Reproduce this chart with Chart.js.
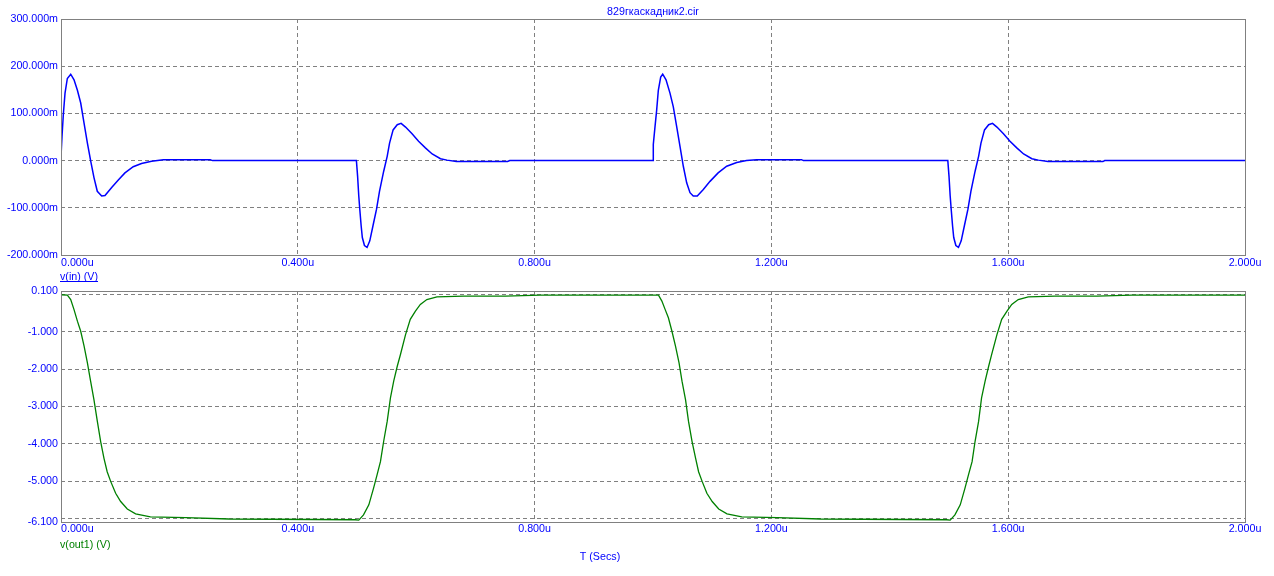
<!DOCTYPE html>
<html>
<head>
<meta charset="utf-8">
<script src="https://cdn.jsdelivr.net/npm/chart.js@4.4.1/dist/chart.umd.min.js"></script>
<style>
  html, body { margin: 0; padding: 0; background: #fff; overflow: hidden; }
  .box { position: absolute; left: 0; width: 1274px; }
  #topBox { top: 0; height: 285px; }
  #botBox { top: 285px; height: 291px; }
</style>
</head>
<body>
<div class="box" id="topBox"><canvas id="cIn"></canvas></div>
<div class="box" id="botBox"><canvas id="cOut"></canvas></div>
<script>
// time axis, microseconds
const xTicks = [0, 0.4, 0.8, 1.2, 1.6, 2.0];

// v(in), mV
const inT = [
  0, 0.0017, 0.0039, 0.0068, 0.0107, 0.0164, 0.022, 0.0277, 0.0333, 0.039, 0.0446, 0.0502,
  0.0557, 0.0613, 0.0687, 0.0743, 0.0856, 0.0968, 0.108, 0.122, 0.136, 0.153, 0.173, 0.252, 0.256,
  0.499, 0.501, 0.503, 0.5047, 0.507, 0.509, 0.5126, 0.517, 0.5216, 0.527, 0.533, 0.538, 0.545,
  0.551, 0.555, 0.561, 0.568, 0.5745, 0.582, 0.593, 0.604, 0.6155, 0.627, 0.641, 0.652, 0.668, 0.7545, 0.758,
  1.0, 1.0005, 1.0034, 1.0062, 1.009, 1.013, 1.0164, 1.022, 1.0287, 1.0343, 1.04, 1.0456, 1.0512,
  1.0569, 1.0625, 1.068, 1.0748, 1.085, 1.0963, 1.110, 1.1245, 1.1414, 1.158, 1.175, 1.251, 1.254,
  1.498, 1.500, 1.502, 1.5037, 1.506, 1.508, 1.5116, 1.516, 1.5206, 1.526, 1.532, 1.537, 1.544,
  1.550, 1.554, 1.560, 1.567, 1.5735, 1.581, 1.592, 1.603, 1.6145, 1.626, 1.640, 1.651, 1.667, 1.760, 1.763,
  2.0
];
const inV = [
  9, 51, 97, 143, 174, 183, 171, 149, 122, 79, 37, -1,
  -36, -65, -75, -74, -57, -41, -26, -13, -6, -1.5, 2, 2, 0,
  0, -33, -75, -103, -138, -163, -180, -184, -170, -138, -103, -65, -23,
  9, 37, 65, 76, 79, 71, 57, 41, 27, 14, 4, 1, -2, -2, 0,
  0, 34, 72, 107, 149, 177, 183, 171, 143, 114, 72, 30, -12,
  -47, -68, -75, -75, -61, -44, -26, -12, -4, 0, 2, 2, 0,
  0, -33, -75, -103, -138, -163, -180, -184, -170, -138, -103, -65, -23,
  9, 37, 65, 76, 79, 71, 57, 41, 27, 14, 4, 1, -2, -2, 0,
  0
];
const inYTicks = [300, 200, 100, 0, -100, -200];

// v(out1), V
const outT = [
  0, 0.0108, 0.0164, 0.022, 0.0277, 0.0333, 0.039, 0.0446, 0.050, 0.0557, 0.0614, 0.067,
  0.0726, 0.078, 0.0839, 0.0923, 0.1008, 0.112, 0.126, 0.151, 0.2105, 0.2836, 0.497, 0.503,
  0.511, 0.52, 0.528, 0.534, 0.5396, 0.545, 0.551, 0.5565, 0.562, 0.568, 0.5733, 0.582,
  0.590, 0.5987, 0.607, 0.618, 0.635, 0.680, 0.7505, 0.8096, 1.0093,
  1.015, 1.0206, 1.026, 1.032, 1.038, 1.044, 1.049, 1.055, 1.060, 1.066, 1.072, 1.077,
  1.083, 1.091, 1.100, 1.111, 1.125, 1.150, 1.210, 1.283, 1.496, 1.502,
  1.510, 1.519, 1.527, 1.533, 1.539, 1.544, 1.550, 1.555, 1.561, 1.567, 1.572, 1.581,
  1.589, 1.598, 1.606, 1.617, 1.634, 1.679, 1.750, 1.809, 2.0
];
const outV = [
  0, -0.01, -0.13, -0.40, -0.71, -0.98, -1.38, -1.83, -2.32, -2.82, -3.40, -3.94,
  -4.39, -4.75, -5.01, -5.33, -5.55, -5.75, -5.88, -5.96, -5.98, -6.02, -6.04, -6.05,
  -5.91, -5.64, -5.19, -4.83, -4.48, -3.94, -3.40, -2.77, -2.32, -1.92, -1.61, -1.07,
  -0.66, -0.44, -0.26, -0.13, -0.06, -0.04, -0.04, -0.01, -0.01,
  -0.17, -0.40, -0.62, -0.98, -1.38, -1.83, -2.32, -2.82, -3.40, -3.94, -4.39, -4.75,
  -5.01, -5.33, -5.55, -5.75, -5.88, -5.96, -5.98, -6.02, -6.04, -6.05,
  -5.91, -5.64, -5.19, -4.83, -4.48, -3.94, -3.40, -2.77, -2.32, -1.92, -1.61, -1.07,
  -0.66, -0.44, -0.26, -0.13, -0.06, -0.04, -0.04, -0.01, -0.01
];
const outYTicks = [0.1, 0, -1, -2, -3, -4, -5, -6, -6.1];
const outYLabels = ['0.100', '', '-1.000', '-2.000', '-3.000', '-4.000', '-5.000', '', '-6.100'];

const BLUE = '#0000ff';
const GREEN = '#008000';
const GRID = '#808080';
const FAMILY = '"Liberation Sans", Arial, sans-serif';
const FSIZE = 10.7;
const FONT = FSIZE + 'px ' + FAMILY;

// frame, time labels and free texts
const framePlugin = {
  id: 'frame',
  afterDraw(chart, args, o) {
    const { ctx, chartArea: a } = chart;
    const x = chart.scales.x;
    ctx.save();
    ctx.strokeStyle = GRID;
    ctx.lineWidth = 1;
    ctx.strokeRect(Math.round(a.left) + 0.5, Math.round(a.top) + 0.5,
      Math.round(a.right - a.left), Math.round(a.bottom - a.top));
    ctx.font = FONT;
    ctx.fillStyle = BLUE;
    ctx.textBaseline = 'middle';
    x.ticks.forEach((t, i) => {
      ctx.textAlign = i === 0 ? 'left' : 'center';
      ctx.fillText(t.value.toFixed(3) + 'u', x.getPixelForValue(t.value), o.tickY);
    });
    (o.texts || []).forEach(tx => {
      ctx.fillStyle = tx.color;
      ctx.textAlign = tx.align;
      const px = tx.x === 'center' ? (a.left + a.right) / 2 : tx.x;
      ctx.fillText(tx.text, px, tx.y);
      if (tx.underline) {
        const w = ctx.measureText(tx.text).width;
        ctx.fillRect(px, tx.y + 4, w, 1);
      }
    });
    ctx.restore();
  }
};

function edgeHidden(vals) {
  return c => (c.tick && vals.includes(c.tick.value)) ? 'rgba(0,0,0,0)' : GRID;
}

function makeChart(canvas, opts) {
  return new Chart(canvas, {
    type: 'scatter',
    data: {
      datasets: [{
        data: opts.t.map((t, i) => ({ x: t, y: opts.v[i] })),
        showLine: true,
        borderColor: opts.color,
        borderWidth: opts.width,
        pointRadius: 0,
        tension: 0
      }]
    },
    options: {
      responsive: true,
      maintainAspectRatio: false,
      animation: false,
      layout: { padding: { left: 0, right: 29, top: opts.padTop, bottom: 0 } },
      scales: {
        x: {
          type: 'linear', min: 0, max: 2,
          afterBuildTicks: s => { s.ticks = xTicks.map(v => ({ value: v })); },
          afterFit: s => { s.height = opts.xHeight; },
          ticks: { display: false },
          grid: { color: edgeHidden([0, 2]), lineWidth: 1, drawTicks: false },
          border: { display: false, dash: [4, 3] }
        },
        y: {
          type: 'linear', min: opts.yMin, max: opts.yMax,
          afterBuildTicks: s => { s.ticks = opts.yTicks.map(v => ({ value: v })); },
          afterFit: s => { s.width = 61; s.paddingTop = 0; s.paddingBottom = 0; },
          ticks: {
            autoSkip: false,
            padding: 3,
            color: BLUE,
            font: { family: FAMILY, size: FSIZE, lineHeight: 1 },
            callback: opts.yLabel
          },
          grid: { color: edgeHidden(opts.yEdges), lineWidth: 1, drawTicks: false },
          border: { display: false, dash: [4, 3] }
        }
      },
      plugins: {
        legend: { display: false },
        tooltip: { enabled: false },
        frame: { tickY: opts.tickY, texts: opts.texts }
      }
    },
    plugins: [framePlugin]
  });
}

makeChart(document.getElementById('cIn'), {
  t: inT, v: inV, color: BLUE, width: 1.5,
  padTop: 19, xHeight: 30,
  yMin: -200, yMax: 300, yTicks: inYTicks, yEdges: [300, -200],
  yLabel: v => v.toFixed(3) + 'm',
  tickY: 263.5,
  texts: [
    { text: '829гкаскадник2.cir', x: 'center', y: 12.5, align: 'center', color: BLUE },
    { text: 'v(in) (V)', x: 60, y: 277, align: 'left', color: BLUE, underline: true }
  ]
});

makeChart(document.getElementById('cOut'), {
  t: outT, v: outV, color: GREEN, width: 1.3,
  padTop: 6, xHeight: 54,
  yMin: -6.1, yMax: 0.1, yTicks: outYTicks, yEdges: [0.1, -6.1],
  yLabel: (v, i) => outYLabels[i],
  tickY: 244.5,
  texts: [
    { text: 'v(out1) (V)', x: 60, y: 260, align: 'left', color: GREEN },
    { text: 'T (Secs)', x: 600, y: 272, align: 'center', color: BLUE }
  ]
});
</script>
</body>
</html>
